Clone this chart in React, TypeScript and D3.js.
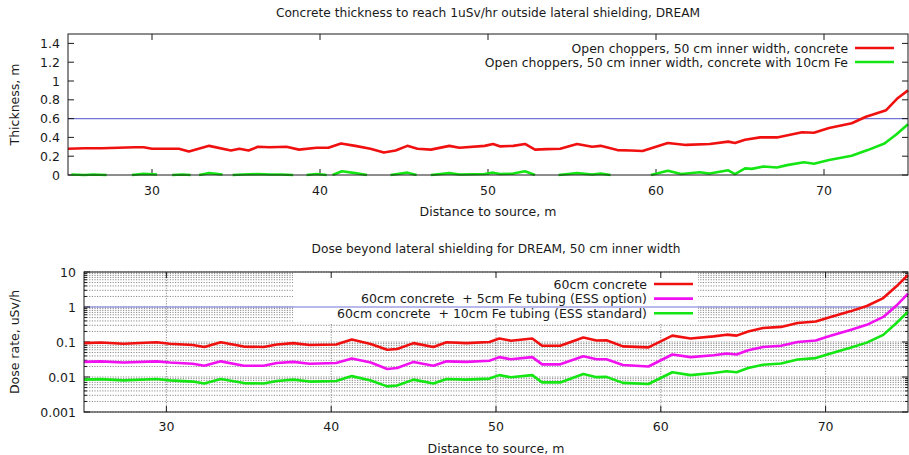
import React from "react";
import * as d3 from "d3";

// --- top panel: concrete thickness needed for 1 uSv/h ---
const thickDist = [25, 26, 27, 28, 29, 29.5, 30, 31, 31.6, 32.2, 33.4, 34.7, 35.2, 35.75, 36.3, 37, 38, 38.75, 39.8, 40.5, 41.25, 42.1, 43, 43.8, 44.5, 45.2, 45.8, 46.6, 47.7, 48.3, 49.8, 50.3, 50.7, 51.5, 52.2, 52.8, 53.5, 54.3, 55.3, 56.2, 56.7, 57.7, 58.5, 59.2, 60, 60.7, 61.8, 63.2, 64.3, 64.7, 65.3, 66.2, 67.2, 68.7, 69.4, 70.3, 71.65, 72.5, 73.7, 74.4, 75];
const thickConcrete = [0.28, 0.285, 0.285, 0.29, 0.295, 0.295, 0.28, 0.28, 0.28, 0.25, 0.31, 0.26, 0.28, 0.26, 0.30, 0.295, 0.30, 0.27, 0.29, 0.29, 0.335, 0.31, 0.28, 0.24, 0.26, 0.31, 0.28, 0.27, 0.31, 0.29, 0.31, 0.33, 0.305, 0.31, 0.33, 0.27, 0.275, 0.28, 0.33, 0.30, 0.31, 0.265, 0.26, 0.255, 0.30, 0.34, 0.32, 0.33, 0.355, 0.34, 0.375, 0.40, 0.40, 0.455, 0.45, 0.50, 0.55, 0.62, 0.69, 0.82, 0.90];

// null = no value (gap in the curve)
const thickFeDist = [25.2, 26, 26.5, 27.3, 28, 28.8, 29.5, 30.3, 30.8, 31.2, 31.8, 32.3, 32.5, 32.8, 33.4, 34.2, 34.5, 34.8, 35.4, 36.3, 37, 37.7, 38.4, 38.8, 39.2, 39.8, 40.4, 40.6, 40.75, 41.3, 42.1, 42.8, 43.5, 44.2, 45.2, 45.75, 46.2, 46.6, 47.7, 48.3, 49.8, 50.3, 50.7, 51.5, 52.2, 52.8, 53.5, 54.2, 55.3, 56.2, 56.7, 57.3, 58.5, 59.7, 60.7, 61.5, 62.6, 63.2, 64.3, 64.7, 65.3, 65.7, 66.4, 67.2, 67.8, 68.8, 69.4, 70.3, 71.65, 72.6, 73.6, 74.3, 75];
const thickFe = [0.005, 0.0, 0.005, 0.0, null, 0.0, 0.012, 0.005, null, 0.0, 0.005, 0.0, null, 0.0, 0.02, 0.005, null, 0.0, 0.005, 0.01, 0.005, 0.005, 0.0, null, 0.0, 0.01, 0.0, null, 0.0, 0.04, 0.02, 0.0, null, 0.0, 0.025, 0.0, null, 0.0, 0.02, 0.005, 0.01, 0.025, 0.01, 0.015, 0.04, 0.0, null, 0.0, 0.02, 0.005, 0.015, 0.0, null, 0.0, 0.045, 0.01, 0.03, 0.015, 0.05, 0.01, 0.07, 0.065, 0.09, 0.08, 0.105, 0.135, 0.12, 0.16, 0.205, 0.265, 0.335, 0.43, 0.54];

// --- bottom panel: dose rate with 60 cm concrete ---
const doseDist = [25, 26, 27.4, 29.4, 30.2, 31.6, 32.3, 33.3, 34.7, 35.9, 36.7, 37.7, 38.7, 40.3, 41.25, 42.4, 43.4, 44, 45, 46.2, 47, 48.2, 49.6, 50.2, 50.9, 52.2, 52.8, 53.9, 55.3, 56.1, 56.7, 57.7, 59.25, 60.7, 61.8, 63.2, 64, 64.6, 65.3, 66.2, 67.3, 68.3, 69.4, 70.3, 71.5, 72.5, 73.5, 74.3, 75];
const dose60 = [0.093, 0.097, 0.089, 0.098, 0.089, 0.082, 0.072, 0.098, 0.074, 0.072, 0.085, 0.093, 0.082, 0.085, 0.118, 0.088, 0.060, 0.063, 0.093, 0.072, 0.098, 0.093, 0.1, 0.126, 0.109, 0.126, 0.078, 0.078, 0.135, 0.11, 0.112, 0.075, 0.07, 0.152, 0.126, 0.145, 0.162, 0.152, 0.2, 0.25, 0.27, 0.35, 0.385, 0.52, 0.75, 1.07, 1.8, 3.9, 8.2];
const dose5Fe = [0.027, 0.028, 0.026, 0.028, 0.026, 0.024, 0.021, 0.028, 0.021, 0.021, 0.025, 0.027, 0.024, 0.025, 0.034, 0.026, 0.017, 0.018, 0.027, 0.021, 0.028, 0.027, 0.029, 0.037, 0.032, 0.037, 0.023, 0.023, 0.039, 0.032, 0.032, 0.022, 0.020, 0.044, 0.037, 0.042, 0.047, 0.044, 0.058, 0.072, 0.078, 0.10, 0.11, 0.15, 0.22, 0.31, 0.52, 1.1, 2.4];
const dose10Fe = [0.0084, 0.0087, 0.008, 0.0088, 0.008, 0.0074, 0.0065, 0.0088, 0.0067, 0.0065, 0.0077, 0.0084, 0.0074, 0.0077, 0.0106, 0.0079, 0.0054, 0.0057, 0.0084, 0.0065, 0.0088, 0.0084, 0.009, 0.0113, 0.0098, 0.0113, 0.007, 0.007, 0.0122, 0.0099, 0.0101, 0.0068, 0.0063, 0.0137, 0.0113, 0.013, 0.0146, 0.0137, 0.018, 0.0225, 0.0243, 0.0315, 0.0347, 0.047, 0.068, 0.096, 0.16, 0.35, 0.74];

const xTicks = [30, 40, 50, 60, 70];
const thickTicks = [0, 0.2, 0.4, 0.6, 0.8, 1, 1.2, 1.4];
const doseTicks = [0.001, 0.01, 0.1, 1, 10];
const thickLimit = 0.6;
const doseLimit = 1;

const topLegend = ["Open choppers, 50 cm inner width, concrete", "Open choppers, 50 cm inner width, concrete with 10cm Fe"];
const bottomLegend = ["60cm concrete", "60cm concrete  + 5cm Fe tubing (ESS option)", "60cm concrete  + 10cm Fe tubing (ESS standard)"];

const RED = "#f01010";
const GREEN = "#14e614";
const MAGENTA = "#f010f0";
const BLUE = "#7474d8";
const INK = "#1a1a1a";
const FONT = "DejaVu Sans, sans-serif";

type Pt = [number, number | null];

const zip = (xs: number[], ys: (number | null)[]): Pt[] => xs.map((x, i) => [x, ys[i]]);

export default function App() {
  const W = 909, H = 455;

  // top panel
  const t = { left: 68, right: 908, top: 34, bottom: 175 };
  const tx = d3.scaleLinear().domain([25, 75]).range([t.left, t.right]);
  const ty = d3.scaleLinear().domain([0, 1.5]).range([t.bottom, t.top]);
  const tLine = d3.line<Pt>().defined(d => d[1] != null).x(d => tx(d[0])).y(d => ty(d[1] as number));

  // bottom panel
  const b = { left: 84, right: 908, top: 272, bottom: 412 };
  const bx = d3.scaleLinear().domain([25, 75]).range([b.left, b.right]);
  const by = d3.scaleLog().domain([0.001, 10]).range([b.bottom, b.top]);
  const bLine = d3.line<Pt>().x(d => bx(d[0])).y(d => by(d[1] as number));

  const minorDose: number[] = [];
  for (let i = 0; i < doseTicks.length - 1; i++) {
    for (let k = 2; k <= 9; k++) minorDose.push(doseTicks[i] * k);
  }

  return (
    <svg width={W} height={H} style={{ position: "absolute", left: 0, top: 0, background: "#fff" }} fontFamily={FONT}>
      {/* ---------- TOP ---------- */}
      <text x={(t.left + t.right) / 2} y={17} textAnchor="middle" fontSize={12.2} fill={INK}>
        Concrete thickness to reach 1uSv/hr outside lateral shielding, DREAM
      </text>
      <line x1={t.left} x2={t.right} y1={ty(thickLimit)} y2={ty(thickLimit)} stroke={BLUE} strokeWidth={1.2} />
      {thickTicks.map(v => (
        <g key={"ty" + v}>
          <line x1={t.left} x2={t.left + 6} y1={ty(v)} y2={ty(v)} stroke={INK} />
          <line x1={t.right - 6} x2={t.right} y1={ty(v)} y2={ty(v)} stroke={INK} />
          <text x={t.left - 8} y={ty(v) + 4.5} textAnchor="end" fontSize={12.5} fill={INK}>{String(v)}</text>
        </g>
      ))}
      {xTicks.map(v => (
        <g key={"tx" + v}>
          <line x1={tx(v)} x2={tx(v)} y1={t.bottom} y2={t.bottom - 6} stroke={INK} />
          <line x1={tx(v)} x2={tx(v)} y1={t.top} y2={t.top + 6} stroke={INK} />
          <text x={tx(v)} y={t.bottom + 20} textAnchor="middle" fontSize={12.5} fill={INK}>{v}</text>
        </g>
      ))}
      <path d={tLine(zip(thickDist, thickConcrete)) || ""} fill="none" stroke={RED} strokeWidth={2.6} strokeLinejoin="round" />
      <path d={tLine(zip(thickFeDist, thickFe)) || ""} fill="none" stroke={GREEN} strokeWidth={2.6} strokeLinejoin="round" />
      <rect x={t.left} y={t.top} width={t.right - t.left} height={t.bottom - t.top} fill="none" stroke={INK} strokeWidth={1} />
      {topLegend.map((s, i) => (
        <g key={"tl" + i}>
          <text x={848} y={48 + i * 14 + 4.5} textAnchor="end" fontSize={12.4} fill={INK}>{s}</text>
          <line x1={855} x2={894} y1={48 + i * 14} y2={48 + i * 14} stroke={i === 0 ? RED : GREEN} strokeWidth={2.6} />
        </g>
      ))}
      <text x={(t.left + t.right) / 2} y={216} textAnchor="middle" fontSize={12.5} fill={INK}>Distance to source, m</text>
      <text transform={`translate(19,${(t.top + t.bottom) / 2}) rotate(-90)`} textAnchor="middle" fontSize={12.5} fill={INK}>Thickness, m</text>

      {/* ---------- BOTTOM ---------- */}
      <text x={(b.left + b.right) / 2} y={253} textAnchor="middle" fontSize={12.2} fill={INK}>
        Dose beyond lateral shielding for DREAM, 50 cm inner width
      </text>
      <g stroke="#6e6e6e" strokeWidth={0.8} strokeDasharray="1.2,1.4">
        {[...doseTicks, ...minorDose].map(v => (
          <line key={"gy" + v} x1={b.left} x2={b.right} y1={by(v)} y2={by(v)} />
        ))}
        {xTicks.map(v => (
          <line key={"gx" + v} x1={bx(v)} x2={bx(v)} y1={b.top} y2={b.bottom} />
        ))}
      </g>
      <rect x={293} y={b.top + 1} width={405} height={50} fill="#fff" />
      <line x1={b.left} x2={b.right} y1={by(doseLimit)} y2={by(doseLimit)} stroke={BLUE} strokeWidth={1.2} />
      {doseTicks.map(v => (
        <g key={"by" + v}>
          <line x1={b.left} x2={b.left + 6} y1={by(v)} y2={by(v)} stroke={INK} />
          <line x1={b.right - 6} x2={b.right} y1={by(v)} y2={by(v)} stroke={INK} />
          <text x={b.left - 8} y={by(v) + 4.5} textAnchor="end" fontSize={12.5} fill={INK}>{String(v)}</text>
        </g>
      ))}
      {minorDose.map(v => (
        <g key={"bm" + v}>
          <line x1={b.left} x2={b.left + 3} y1={by(v)} y2={by(v)} stroke={INK} />
          <line x1={b.right - 3} x2={b.right} y1={by(v)} y2={by(v)} stroke={INK} />
        </g>
      ))}
      {xTicks.map(v => (
        <g key={"bx" + v}>
          <line x1={bx(v)} x2={bx(v)} y1={b.bottom} y2={b.bottom - 6} stroke={INK} />
          <line x1={bx(v)} x2={bx(v)} y1={b.top} y2={b.top + 6} stroke={INK} />
          <text x={bx(v)} y={b.bottom + 19} textAnchor="middle" fontSize={12.5} fill={INK}>{v}</text>
        </g>
      ))}
      <path d={bLine(zip(doseDist, dose60)) || ""} fill="none" stroke={RED} strokeWidth={2.6} strokeLinejoin="round" />
      <path d={bLine(zip(doseDist, dose5Fe)) || ""} fill="none" stroke={MAGENTA} strokeWidth={2.6} strokeLinejoin="round" />
      <path d={bLine(zip(doseDist, dose10Fe)) || ""} fill="none" stroke={GREEN} strokeWidth={2.6} strokeLinejoin="round" />
      <rect x={b.left} y={b.top} width={b.right - b.left} height={b.bottom - b.top} fill="none" stroke={INK} strokeWidth={1} />
      {bottomLegend.map((s, i) => (
        <g key={"bl" + i}>
          <text x={647} y={284 + i * 14.6 + 4.5} textAnchor="end" fontSize={12.5} fill={INK} style={{ whiteSpace: "pre" }}>{s}</text>
          <line x1={654} x2={693} y1={284 + i * 14.6} y2={284 + i * 14.6} stroke={[RED, MAGENTA, GREEN][i]} strokeWidth={2.6} />
        </g>
      ))}
      <text x={(b.left + b.right) / 2} y={453} textAnchor="middle" fontSize={12.5} fill={INK}>Distance to source, m</text>
      <text transform={`translate(19,${(b.top + b.bottom) / 2}) rotate(-90)`} textAnchor="middle" fontSize={12.5} fill={INK}>Dose rate, uSv/h</text>
    </svg>
  );
}
